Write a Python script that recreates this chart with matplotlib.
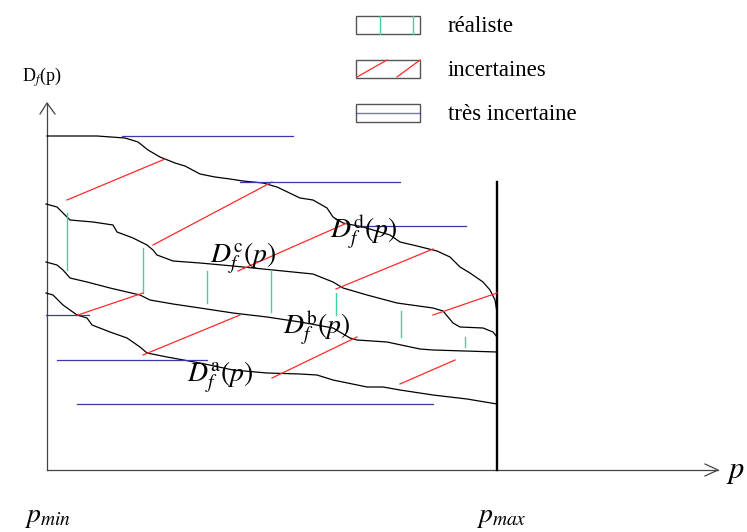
import matplotlib
matplotlib.use("Agg")
import matplotlib.pyplot as plt
from matplotlib.patches import Rectangle

plt.rcParams["mathtext.fontset"] = "stix"
plt.rcParams["font.family"] = ["Liberation Serif", "DejaVu Serif"]

# curves D_f^x(p), in picture coordinates (y goes down)
curve_d_x = [47, 97, 125, 138, 148, 160, 175, 185, 200, 215, 230, 243, 263, 277, 300, 313, 327, 333, 343, 363,
             390, 400, 417, 437, 450, 460, 470, 483, 490, 495, 497]
curve_d_y = [136, 136, 138, 142, 150, 157, 163, 166, 174, 177, 179, 181, 183, 187, 198, 200, 208, 217, 223, 227,
             235, 242, 246, 251, 257, 267, 273, 282, 290, 300, 312]

curve_c_x = [46, 57, 67, 70, 93, 113, 117, 133, 147, 153, 157, 173, 200, 233, 273, 313, 323, 333, 343, 367, 397,
             433, 443, 448, 453, 460, 483, 493, 497]
curve_c_y = [204, 207, 217, 220, 222, 225, 232, 238, 245, 250, 255, 261, 263, 266, 270, 274, 278, 282, 288, 295, 303,
             308, 311, 317, 323, 327, 328, 332, 337]

curve_b_x = [46, 57, 63, 70, 87, 110, 127, 140, 150, 173, 200, 233, 267, 300, 333, 350, 357, 387, 420, 433, 497]
curve_b_y = [262, 265, 270, 278, 282, 288, 292, 295, 300, 304, 308, 313, 317, 322, 328, 338, 340, 342, 349, 350, 352]

curve_a_x = [46, 53, 63, 77, 87, 92, 110, 127, 140, 147, 167, 200, 233, 267, 300, 317, 333, 367, 383, 400, 433, 467, 497]
curve_a_y = [293, 295, 305, 315, 318, 325, 332, 338, 347, 353, 357, 363, 370, 373, 374, 375, 380, 387, 387, 390, 395, 399, 404]

# "réaliste" vertical segments: x, y top, y bottom
real_x = [67, 143, 207, 271, 336, 401, 465]
real_y0 = [213, 248, 271, 270, 293, 311, 337]
real_y1 = [270, 293, 303, 312, 315, 337, 347]

# "incertaines" red segments: x0, y0, x1, y1
unc_x0 = [67, 153, 238, 336, 433, 78, 143, 272, 400]
unc_y0 = [200, 245, 271, 289, 315, 315, 355, 378, 384]
unc_x1 = [165, 272, 347, 433, 497, 143, 240, 357, 455]
unc_y1 = [159, 182, 223, 249, 293, 293, 315, 337, 360]

# "très incertaine" horizontal blue segments: y, x start, x end
vunc_y = [136, 182, 226, 315, 360, 404]
vunc_x0 = [122, 240, 357, 46, 57, 77]
vunc_x1 = [293, 400, 466, 89, 207, 433]

curve_labels = [r"$D_f^{\mathrm{d}}(p)$", r"$D_f^{\mathrm{c}}(p)$", r"$D_f^{\mathrm{b}}(p)$", r"$D_f^{\mathrm{a}}(p)$"]
label_x = [330, 210, 283, 187]
label_y = [238, 263, 334, 382]

legend_labels = ["réaliste", "incertaines", "très incertaine"]
legend_y = [16, 60, 104]

green = "#3fd3a3"
red = "#ff2a2a"
blue = "#3a3aa6"

fig = plt.figure(figsize=(7.47, 5.32), dpi=100)
ax = fig.add_axes([0, 0, 1, 1])
ax.set_xlim(0, 747)
ax.set_ylim(532, 0)
ax.axis("off")

# axes with arrows
ax.plot([47, 47], [470, 103], color="#444444", lw=0.9)
ax.plot([40, 47, 55], [114, 103, 114], color="#444444", lw=0.9)
ax.plot([47, 718], [470, 470], color="#444444", lw=0.9)
ax.plot([705, 718, 705], [464, 470, 476], color="#444444", lw=0.9)
ax.plot([497, 497], [182, 470], color="black", lw=1.7)

for xs, ys in [(curve_d_x, curve_d_y), (curve_c_x, curve_c_y), (curve_b_x, curve_b_y), (curve_a_x, curve_a_y)]:
    ax.plot(xs, ys, color="black", lw=0.9)

for x, y0, y1 in zip(real_x, real_y0, real_y1):
    ax.plot([x, x], [y0, y1], color=green, lw=1.0)

for x0, y0, x1, y1 in zip(unc_x0, unc_y0, unc_x1, unc_y1):
    ax.plot([x0, x1], [y0, y1], color=red, lw=0.9)

for y, x0, x1 in zip(vunc_y, vunc_x0, vunc_x1):
    ax.plot([x0, x1], [y, y], color=blue, lw=0.9)

for lab, x, y in zip(curve_labels, label_x, label_y):
    ax.text(x, y, lab, fontsize=20, ha="left", va="baseline")

ax.text(22, 82, r"D$_f$(p)", fontsize=13, ha="left", va="baseline")
ax.text(726, 478, r"$p$", fontsize=22, ha="left", va="baseline")
ax.text(24, 522, r"$p_{min}$", fontsize=20, ha="left", va="baseline")
ax.text(476, 522, r"$p_{max}$", fontsize=20, ha="left", va="baseline")

# legend boxes
for i, (lab, y) in enumerate(zip(legend_labels, legend_y)):
    ax.add_patch(Rectangle((356, y), 64, 18, fill=False, edgecolor="#555555", lw=1.0))
    if i == 0:
        ax.plot([380, 380], [y, y + 18], color=green, lw=1.0)
        ax.plot([413, 413], [y, y + 18], color=green, lw=1.0)
    elif i == 1:
        ax.plot([357, 387], [y + 17, y], color=red, lw=0.9)
        ax.plot([397, 420], [y + 17, y], color=red, lw=0.9)
    else:
        ax.plot([356, 420], [y + 9, y + 9], color=blue, lw=1.0, alpha=0.7)
    ax.text(448, y + 10, lab, fontsize=16.5, ha="left", va="center")

fig.savefig("out.png", dpi=100)
